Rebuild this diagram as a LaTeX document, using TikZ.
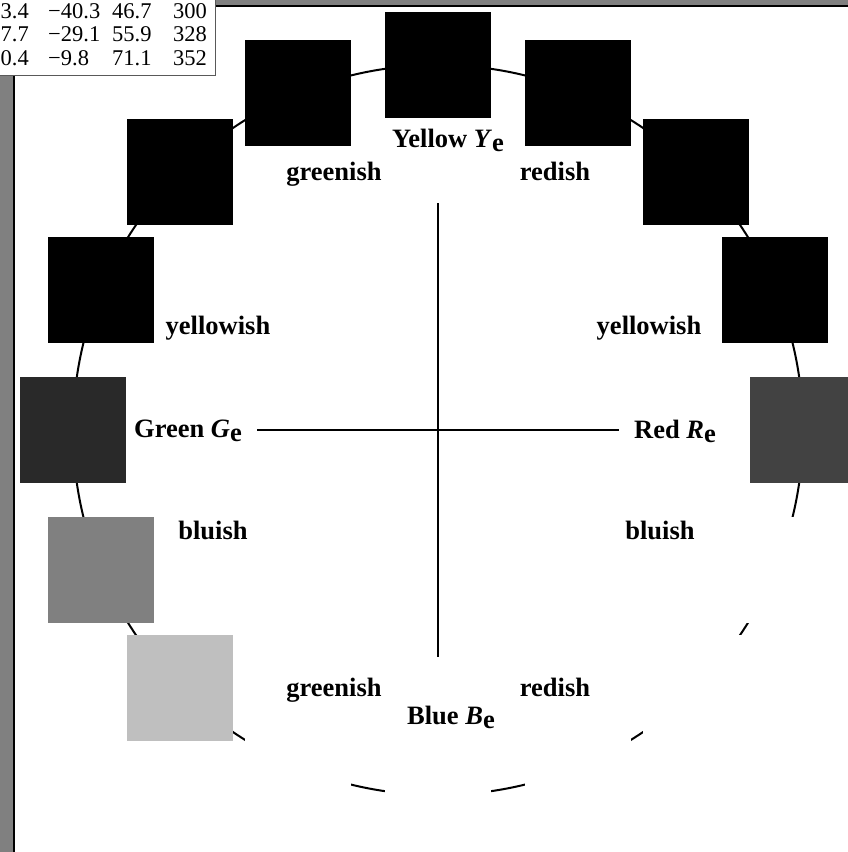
\documentclass[tikz,border=0pt]{standalone}
\usepackage{fontspec}
\setmainfont{Liberation Serif}
\definecolor{bandgray}{gray}{0.5}
\definecolor{greensq}{gray}{0.16}
\definecolor{redsq}{gray}{0.26}
\definecolor{bluesq}{gray}{0.5}
\definecolor{lightsq}{gray}{0.75}
\definecolor{tabborder}{gray}{0.35}
\newcommand\subE{\raisebox{-4pt}{e}}
\begin{document}
\begin{tikzpicture}[x=1pt,y=-1pt,
  sq/.style={rectangle,draw=none,minimum size=106pt,inner sep=0pt},
  lab/.style={anchor=base,inner sep=0pt,font=\fontsize{26.5}{28}\selectfont\bfseries},
  tab/.style={anchor=base,inner sep=0pt,font=\fontsize{22.5}{24}\selectfont},
  axis/.style={line width=1.5pt},
  ring/.style={line width=2pt}]
\useasboundingbox (0,0) rectangle (848,852);
% frame
\fill[bandgray] (0,0) rectangle (848,5);
\fill[bandgray] (0,0) rectangle (13,852);
\draw[line width=2pt] (0,6) -- (848,6);
\draw[line width=2pt] (14,0) -- (14,852);
% table box
\draw[fill=white,draw=tabborder,line width=1pt] (-3,-3) rectangle (215,75);
\node[tab,anchor=base east] (t11) at (29,18.5) {3.4};
\node[tab,anchor=base west] (t12) at (48,18.5) {−40.3};
\node[tab,anchor=base west] (t13) at (112,18.5) {46.7};
\node[tab,anchor=base west] (t14) at (173,18.5) {300};
\node[tab,anchor=base east] (t21) at (29,41.8) {7.7};
\node[tab,anchor=base west] (t22) at (48,41.8) {−29.1};
\node[tab,anchor=base west] (t23) at (112,41.8) {55.9};
\node[tab,anchor=base west] (t24) at (173,41.8) {328};
\node[tab,anchor=base east] (t31) at (29,65) {0.4};
\node[tab,anchor=base west] (t32) at (48,65) {−9.8};
\node[tab,anchor=base west] (t33) at (112,65) {71.1};
\node[tab,anchor=base west] (t34) at (173,65) {352};
% circle
\coordinate (c) at (438,430);
\draw[ring] (c) circle[radius=365pt];
% squares
\foreach \a/\col/\n in {90/black/s0,67.5/black/s1,45/black/s2,22.5/black/s3,0/redsq/s4,
  -22.5/white/s5,-45/white/s6,-67.5/white/s7,-90/white/s8,-112.5/white/s9,
  -135/lightsq/s10,-157.5/bluesq/s11,180/greensq/s12,157.5/black/s13,135/black/s14,112.5/black/s15}
  \path (c) ++(-\a:365) node[sq,fill=\col] (\n) {};
% axes
\coordinate (vt) at (438,203);
\coordinate (vb) at (438,657);
\coordinate (hl) at (257,430);
\coordinate (hr) at (619,430);
\draw[axis] (vt) -- (vb);
\draw[axis] (hl) -- (hr);
% labels
\node[lab] (ly) at (448,147) {Yellow \textit{Y}\subE};
\node[lab] (lg1) at (334,180) {greenish};
\node[lab] (lr1) at (555,180) {redish};
\node[lab] (ly1) at (218,334) {yellowish};
\node[lab] (ly2) at (649,334) {yellowish};
\node[lab] (lgr) at (188,437) {Green \textit{G}\subE};
\node[lab] (lre) at (675,438) {Red \textit{R}\subE};
\node[lab] (lb1) at (213,539) {bluish};
\node[lab] (lb2) at (660,539) {bluish};
\node[lab] (lg2) at (334,696) {greenish};
\node[lab] (lr2) at (555,696) {redish};
\node[lab] (lbl) at (451,724) {Blue \textit{B}\subE};
\end{tikzpicture}
\end{document}
